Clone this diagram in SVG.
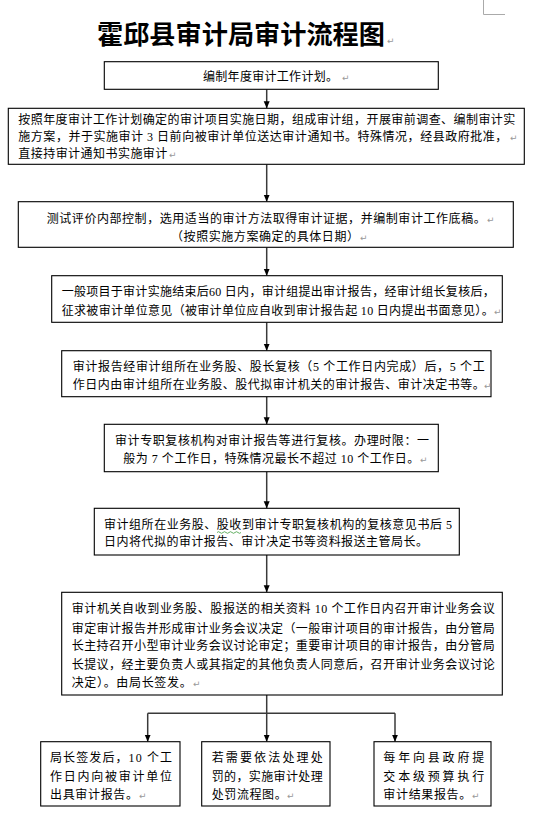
<svg xmlns="http://www.w3.org/2000/svg" width="550" height="834" viewBox="0 0 550 834">
<defs>
<style>
.bg{fill:#fff}
.box{fill:#fff;stroke:#000;stroke-width:1.1}
.t{font-family:"Liberation Serif","Noto Sans CJK SC",sans-serif;font-size:12px;fill:#000}
.title{font-family:"Noto Sans CJK SC",sans-serif;font-size:26px;font-weight:bold;fill:#000}
.ret{font-family:"DejaVu Sans",sans-serif;font-size:9px;fill:#999}
.con{stroke:#3a3a3a;stroke-width:1.5;fill:none}
.corner{stroke:#aaa;stroke-width:1;fill:none}
</style>
<marker id="ah" markerUnits="userSpaceOnUse" markerWidth="7" markerHeight="7" viewBox="0 0 7 7" refX="7" refY="3.5" orient="auto">
<path d="M0,0.5 L7,3.5 L0,6.5 z" fill="#000"/>
</marker>
</defs>
<rect class="bg" x="0" y="0" width="550" height="834"/>
<path class="corner" d="M483.5,0 V14.5 H505"/>

<g id="title">
<text class="title" x="97" y="44" textLength="288" lengthAdjust="spacingAndGlyphs">霍邱县审计局审计流程图</text>
<text class="ret" x="387" y="44">↵</text>
</g>

<g id="connectors">
<line class="con" x1="266.7" y1="89.3" x2="266.7" y2="108.3" marker-end="url(#ah)"/>
<line class="con" x1="266.7" y1="164.3" x2="266.7" y2="201.7" marker-end="url(#ah)"/>
<line class="con" x1="266.7" y1="247.3" x2="266.7" y2="275.7" marker-end="url(#ah)"/>
<line class="con" x1="266.7" y1="322.3" x2="266.7" y2="350.7" marker-end="url(#ah)"/>
<line class="con" x1="266.7" y1="396.7" x2="266.7" y2="424.3" marker-end="url(#ah)"/>
<line class="con" x1="266.7" y1="471.7" x2="266.7" y2="508.3" marker-end="url(#ah)"/>
<line class="con" x1="266.7" y1="555" x2="266.7" y2="592.3" marker-end="url(#ah)"/>
<line class="con" x1="266.7" y1="695" x2="266.7" y2="741.7" marker-end="url(#ah)"/>
<path class="con" d="M147.7,713.3 H395"/>
<line class="con" x1="147.7" y1="713.3" x2="147.7" y2="741.7" marker-end="url(#ah)"/>
<line class="con" x1="395" y1="713.3" x2="395" y2="741.7" marker-end="url(#ah)"/>
</g>

<g id="n1">
<rect class="box" x="104.3" y="61.7" width="334" height="27.6"/>
<text class="t" x="203" y="81.2" textLength="135" lengthAdjust="spacing">编制年度审计工作计划。</text>
<text class="ret" x="342" y="81.2">↵</text>
</g>

<g id="n2">
<rect class="box" x="8.3" y="108.3" width="516" height="56"/>
<text class="t" x="18.3" y="123.8" textLength="497" lengthAdjust="spacing">按照年度审计工作计划确定的审计项目实施日期，组成审计组，开展审前调查、编制审计实</text>
<text class="t" x="18.3" y="140.5" textLength="489" lengthAdjust="spacing">施方案，并于实施审计 3 日前向被审计单位送达审计通知书。特殊情况，经县政府批准，</text>
<text class="ret" x="510" y="140.5">↵</text>
<text class="t" x="18.3" y="157.8" textLength="149" lengthAdjust="spacing">直接持审计通知书实施审计</text>
<text class="ret" x="169" y="157.8">↵</text>
</g>

<g id="n3">
<rect class="box" x="18.3" y="201.7" width="495" height="45.6"/>
<text class="t" x="46.7" y="222.8" textLength="439" lengthAdjust="spacing">测试评价内部控制，选用适当的审计方法取得审计证据，并编制审计工作底稿。</text>
<text class="ret" x="487" y="222.8">↵</text>
<text class="t" x="171" y="240.5" textLength="188" lengthAdjust="spacing">（按照实施方案确定的具体日期）</text>
<text class="ret" x="360" y="240.5">↵</text>
</g>

<g id="n4">
<rect class="box" x="51.7" y="275.7" width="450.6" height="46.6"/>
<text class="t" x="61.7" y="296.2" textLength="433" lengthAdjust="spacing">一般项目于审计实施结束后60 日内，审计组提出审计报告，经审计组长复核后，</text>
<text class="t" x="61.7" y="314.5" textLength="432" lengthAdjust="spacing">征求被审计单位意见（被审计单位应自收到审计报告起 10 日内提出书面意见）。</text>
<text class="ret" x="494" y="314.5">↵</text>
</g>

<g id="n5">
<rect class="box" x="61.7" y="350.7" width="429.3" height="46"/>
<text class="t" x="72.7" y="371.2" textLength="412" lengthAdjust="spacing">审计报告经审计组所在业务股、股长复核（5 个工作日内完成）后，5 个工</text>
<text class="t" x="72.7" y="388.8" textLength="412" lengthAdjust="spacing">作日内由审计组所在业务股、股代拟审计机关的审计报告、审计决定书等。</text>
<text class="ret" x="484" y="388.8">↵</text>
</g>

<g id="n6">
<rect class="box" x="104.3" y="424.3" width="334" height="47.4"/>
<text class="t" x="115" y="444.5" textLength="314" lengthAdjust="spacing">审计专职复核机构对审计报告等进行复核。办理时限：一</text>
<text class="t" x="123.3" y="462.8" textLength="296" lengthAdjust="spacing">般为 7 个工作日，特殊情况最长不超过 10 个工作日。</text>
<text class="ret" x="420" y="462.8">↵</text>
</g>

<g id="n7">
<rect class="box" x="94.3" y="508.3" width="365" height="46.7"/>
<text class="t" x="104" y="528.5" textLength="348" lengthAdjust="spacing">审计组所在业务股、股收到审计专职复核机构的复核意见书后 5</text>
<path d="M217,532.5 q1.5,-1.6 3,0 t3,0 t3,0 t3,0 t3,0 t3,0 t3,0 t3,0" fill="none" stroke="#3c9a3c" stroke-width="0.8"/>
<text class="t" x="104" y="546.2" textLength="324" lengthAdjust="spacing">日内将代拟的审计报告、审计决定书等资料报送主管局长。</text>
</g>

<g id="n8">
<rect class="box" x="61.7" y="592.3" width="440.6" height="102.7"/>
<text class="t" x="71.7" y="612.8" textLength="423" lengthAdjust="spacing">审计机关自收到业务股、股报送的相关资料 10 个工作日内召开审计业务会议</text>
<text class="t" x="71.7" y="632.8" textLength="423" lengthAdjust="spacing">审定审计报告并形成审计业务会议决定（一般审计项目的审计报告，由分管局</text>
<text class="t" x="71.7" y="650.2" textLength="423" lengthAdjust="spacing">长主持召开小型审计业务会议讨论审定；重要审计项目的审计报告，由分管局</text>
<text class="t" x="71.7" y="668.5" textLength="423" lengthAdjust="spacing">长提议，经主要负责人或其指定的其他负责人同意后，召开审计业务会议讨论</text>
<text class="t" x="71.7" y="686.8" textLength="120" lengthAdjust="spacing">决定）。由局长签发。</text>
<text class="ret" x="193" y="686.8">↵</text>
</g>

<g id="n9">
<rect class="box" x="40.7" y="741.7" width="139.3" height="64.3"/>
<text class="t" x="50" y="761.8" textLength="122" lengthAdjust="spacing">局长签发后，10 个工</text>
<text class="t" x="50" y="780.5" textLength="122" lengthAdjust="spacing">作日内向被审计单位</text>
<text class="t" x="50" y="798.5" textLength="88" lengthAdjust="spacing">出具审计报告。</text>
<text class="ret" x="139" y="798.5">↵</text>
</g>

<g id="n10">
<rect class="box" x="201.7" y="741.7" width="128.3" height="64.3"/>
<text class="t" x="211.7" y="761.8" textLength="111" lengthAdjust="spacing">若需要依法处理处</text>
<text class="t" x="211.7" y="780.5" textLength="111" lengthAdjust="spacing">罚的，实施审计处理</text>
<text class="t" x="211.7" y="798.5" textLength="75" lengthAdjust="spacing">处罚流程图。</text>
<text class="ret" x="287" y="798.5">↵</text>
</g>

<g id="n11">
<rect class="box" x="374" y="741.7" width="117" height="64.3"/>
<text class="t" x="383.3" y="761.8" textLength="101" lengthAdjust="spacing">每年向县政府提</text>
<text class="t" x="383.3" y="780.5" textLength="101" lengthAdjust="spacing">交本级预算执行</text>
<text class="t" x="383.3" y="798.5" textLength="88" lengthAdjust="spacing">审计结果报告。</text>
<text class="ret" x="472" y="798.5">↵</text>
</g>
</svg>
